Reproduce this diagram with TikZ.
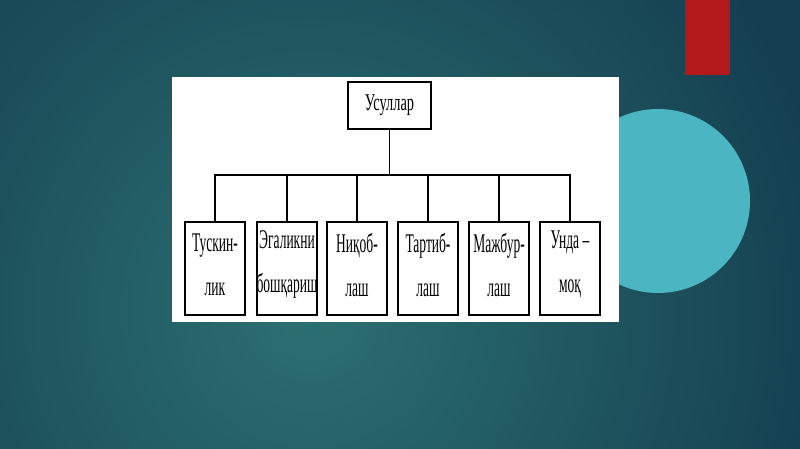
\documentclass[tikz,border=0pt]{standalone}
\usepackage{fontspec}
\newfontfamily\topfont[FakeStretch=0.6]{Liberation Serif}
\newfontfamily\childfont[FakeStretch=0.5]{Liberation Serif}
\definecolor{bgdark}{HTML}{143F50}
\definecolor{bgmid}{HTML}{2C7072}
\definecolor{circ}{HTML}{4BB5C1}
\definecolor{redbar}{HTML}{B3181A}
\tikzset{
  topbox/.style={draw=black, line width=1.3pt, fill=white, minimum width=83pt, minimum height=47pt, inner sep=0pt, font=\topfont\fontsize{24}{26}\selectfont},
  childbox/.style={draw=black, line width=1.3pt, fill=white, minimum width=60pt, minimum height=93pt, inner sep=0pt},
  childtext/.style={inner sep=0pt, align=center, font=\childfont\fontsize{27}{44}\selectfont},
  conn/.style={draw=black, line width=1.1pt}
}
\begin{document}
\begin{tikzpicture}[x=1pt, y=-1pt]
\useasboundingbox (0,0) rectangle (800,449);
% background
\fill[bgdark] (0,0) rectangle (800,449);
\shade[inner color=bgmid, outer color=bgdark] (-220,-230) rectangle (840,850);
% decorations
\fill[redbar] (685,0) rectangle (730,75);
\fill[circ] (658,201) circle (92);
% panel
\fill[white] (172,77) rectangle (619,322);
% nodes
\node[topbox] (top) at (389.5,105.5) {Усуллар};
\node[childbox] (c1) at (215,268.5) {};
\node[childbox] (c2) at (287,268.5) {};
\node[childbox] (c3) at (357,268.5) {};
\node[childbox] (c4) at (428,268.5) {};
\node[childbox] (c5) at (499,268.5) {};
\node[childbox] (c6) at (570,268.5) {};
\node[childtext] (t1) at ([yshift=4pt]c1.center) {Тускин-\\лик};
\node[childtext] (t2) at ([yshift=4pt]c2.center) {Эгаликни\\бошқариш};
\node[childtext] (t3) at ([yshift=4pt]c3.center) {Ниқоб-\\лаш};
\node[childtext] (t4) at ([yshift=4pt]c4.center) {Тартиб-\\лаш};
\node[childtext] (t5) at ([yshift=4pt]c5.center) {Мажбур-\\лаш};
\node[childtext] (t6) at ([yshift=4pt]c6.center) {Унда –\\моқ};
\coordinate (hl) at (0,175);
% connectors
\draw[conn] (top.south) -- (top.south |- hl);
\draw[conn] (c1.north) -- (c1.north |- hl) -- (c6.north |- hl) -- (c6.north);
\foreach \n in {c2,c3,c4,c5}
  \draw[conn] (\n.north) -- (\n.north |- hl);
\end{tikzpicture}
\end{document}
